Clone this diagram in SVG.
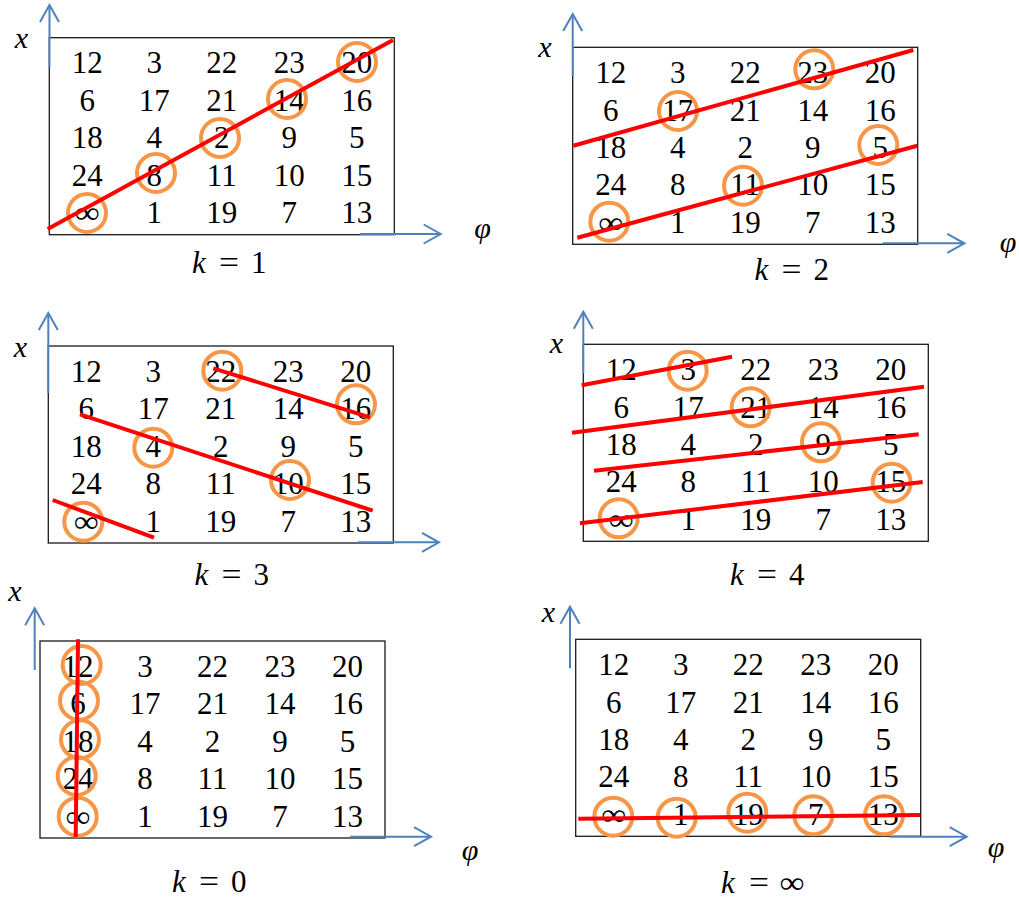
<svg xmlns="http://www.w3.org/2000/svg" width="1019" height="903" viewBox="0 0 1019 903">
<defs>
<style>
.frame{fill:#fff;stroke:#1a1a1a;stroke-width:1.3}
.n{font-family:"Liberation Serif","DejaVu Serif",serif;font-size:31px;text-anchor:middle;fill:#000}
.lab{font-family:"Liberation Serif","DejaVu Serif",serif;font-size:30px;font-style:italic;text-anchor:middle;fill:#000}
.k{font-family:"Liberation Serif","DejaVu Serif",serif;font-size:31px;fill:#000}
.it{font-style:italic}
.axis{fill:none;stroke:#4F81BD;stroke-width:2;marker-end:url(#arr)}
.ring{fill:none;stroke:#F79646;stroke-width:4}
.cut{stroke:#FF0000;stroke-width:4;stroke-linecap:butt}
</style>
<marker id="arr" markerUnits="userSpaceOnUse" viewBox="-19 -11 21 22" refX="0" refY="0" markerWidth="21" markerHeight="22" orient="auto">
<path d="M-17,-9.5 L0,0 L-17,9.5" fill="none" stroke="#4F81BD" stroke-width="2"/>
</marker>
</defs>
<rect width="1019" height="903" fill="#fff"/>

<!-- Panel k=1 -->
<g id="panel-k1">
<g transform="translate(49.3,37.7)">
<rect class="frame" x="0" y="0" width="345" height="197"/>
<text class="n" x="38" y="35.8">12</text><text class="n" x="105" y="35.8">3</text><text class="n" x="172.5" y="35.8">22</text><text class="n" x="240" y="35.8">23</text><text class="n" x="307.5" y="35.8">20</text>
<text class="n" x="38" y="73.3">6</text><text class="n" x="105" y="73.3">17</text><text class="n" x="172.5" y="73.3">21</text><text class="n" x="240" y="73.3">14</text><text class="n" x="307.5" y="73.3">16</text>
<text class="n" x="38" y="110.7">18</text><text class="n" x="105" y="110.7">4</text><text class="n" x="172.5" y="110.7">2</text><text class="n" x="240" y="110.7">9</text><text class="n" x="307.5" y="110.7">5</text>
<text class="n" x="38" y="148">24</text><text class="n" x="105" y="148">8</text><text class="n" x="172.5" y="148">11</text><text class="n" x="240" y="148">10</text><text class="n" x="307.5" y="148">15</text>
<text class="n" x="38" y="185.5" textLength="25" lengthAdjust="spacingAndGlyphs">∞</text><text class="n" x="105" y="185.5">1</text><text class="n" x="172.5" y="185.5">19</text><text class="n" x="240" y="185.5">7</text><text class="n" x="307.5" y="185.5">13</text>
</g>
<path class="axis" d="M49.5,67 V5"/>
<path class="axis" d="M360,234 H440.7"/>
<text class="lab" x="21.5" y="48">x</text>
<text class="lab" x="482.5" y="238">φ</text>
<text class="k" y="273.3"><tspan class="it" x="192">k</tspan><tspan x="219" textLength="20" lengthAdjust="spacingAndGlyphs">=</tspan><tspan x="251">1</tspan></text>
<circle class="ring" cx="87" cy="213" r="19"/><circle class="ring" cx="156" cy="173" r="19"/><circle class="ring" cx="220" cy="138" r="19"/><circle class="ring" cx="287" cy="99" r="19"/><circle class="ring" cx="357" cy="62" r="19"/>
<g id="lines-k1"><line class="cut" x1="47.7" y1="229" x2="393" y2="40"/></g>
</g>

<!-- Panel k=2 -->
<g id="panel-k2">
<g transform="translate(572.7,47.3)">
<rect class="frame" x="0" y="0" width="345" height="197"/>
<text class="n" x="38" y="35.8">12</text><text class="n" x="105" y="35.8">3</text><text class="n" x="172.5" y="35.8">22</text><text class="n" x="240" y="35.8">23</text><text class="n" x="307.5" y="35.8">20</text>
<text class="n" x="38" y="73.3">6</text><text class="n" x="105" y="73.3">17</text><text class="n" x="172.5" y="73.3">21</text><text class="n" x="240" y="73.3">14</text><text class="n" x="307.5" y="73.3">16</text>
<text class="n" x="38" y="110.7">18</text><text class="n" x="105" y="110.7">4</text><text class="n" x="172.5" y="110.7">2</text><text class="n" x="240" y="110.7">9</text><text class="n" x="307.5" y="110.7">5</text>
<text class="n" x="38" y="148">24</text><text class="n" x="105" y="148">8</text><text class="n" x="172.5" y="148">11</text><text class="n" x="240" y="148">10</text><text class="n" x="307.5" y="148">15</text>
<text class="n" x="38" y="185.5" textLength="25" lengthAdjust="spacingAndGlyphs">∞</text><text class="n" x="105" y="185.5">1</text><text class="n" x="172.5" y="185.5">19</text><text class="n" x="240" y="185.5">7</text><text class="n" x="307.5" y="185.5">13</text>
</g>
<path class="axis" d="M572.7,76 V14"/>
<path class="axis" d="M882.7,243.3 H964.3"/>
<text class="lab" x="545" y="57">x</text>
<text class="lab" x="1008" y="252">φ</text>
<text class="k" y="280"><tspan class="it" x="754.5">k</tspan><tspan x="781.5" textLength="20" lengthAdjust="spacingAndGlyphs">=</tspan><tspan x="813.5">2</tspan></text>
<circle class="ring" cx="814.3" cy="69.3" r="19"/><circle class="ring" cx="678" cy="111" r="19"/><circle class="ring" cx="878.3" cy="145" r="19"/><circle class="ring" cx="743" cy="185.7" r="19"/><circle class="ring" cx="609.3" cy="221.7" r="19"/>
<g id="lines-k2"><line class="cut" x1="573.3" y1="145.7" x2="913.3" y2="50"/><line class="cut" x1="577.3" y1="237.7" x2="917.3" y2="145.7"/></g>
</g>

<!-- Panel k=3 -->
<g id="panel-k3">
<g transform="translate(48.3,346)">
<rect class="frame" x="0" y="0" width="345" height="197"/>
<text class="n" x="38" y="35.8">12</text><text class="n" x="105" y="35.8">3</text><text class="n" x="172.5" y="35.8">22</text><text class="n" x="240" y="35.8">23</text><text class="n" x="307.5" y="35.8">20</text>
<text class="n" x="38" y="73.3">6</text><text class="n" x="105" y="73.3">17</text><text class="n" x="172.5" y="73.3">21</text><text class="n" x="240" y="73.3">14</text><text class="n" x="307.5" y="73.3">16</text>
<text class="n" x="38" y="110.7">18</text><text class="n" x="105" y="110.7">4</text><text class="n" x="172.5" y="110.7">2</text><text class="n" x="240" y="110.7">9</text><text class="n" x="307.5" y="110.7">5</text>
<text class="n" x="38" y="148">24</text><text class="n" x="105" y="148">8</text><text class="n" x="172.5" y="148">11</text><text class="n" x="240" y="148">10</text><text class="n" x="307.5" y="148">15</text>
<text class="n" x="38" y="185.5" textLength="25" lengthAdjust="spacingAndGlyphs">∞</text><text class="n" x="105" y="185.5">1</text><text class="n" x="172.5" y="185.5">19</text><text class="n" x="240" y="185.5">7</text><text class="n" x="307.5" y="185.5">13</text>
</g>
<path class="axis" d="M48.3,393 V313"/>
<path class="axis" d="M358,542.3 H439"/>
<text class="lab" x="20.5" y="357">x</text>
<text class="k" y="585"><tspan class="it" x="194.5">k</tspan><tspan x="221.5" textLength="20" lengthAdjust="spacingAndGlyphs">=</tspan><tspan x="253.5">3</tspan></text>
<circle class="ring" cx="222.3" cy="370.7" r="19"/><circle class="ring" cx="356" cy="404.3" r="19"/><circle class="ring" cx="153.3" cy="447.7" r="19"/><circle class="ring" cx="290" cy="480" r="19"/><circle class="ring" cx="83.3" cy="521.7" r="19"/>
<g id="lines-k3"><line class="cut" x1="213.3" y1="368.3" x2="370" y2="417.3"/><line class="cut" x1="80" y1="414.3" x2="372.7" y2="510.7"/><line class="cut" x1="52.7" y1="500" x2="154" y2="537.7"/></g>
</g>

<!-- Panel k=4 -->
<g id="panel-k4">
<g transform="translate(583.3,344.3)">
<rect class="frame" x="0" y="0" width="345" height="197"/>
<text class="n" x="38" y="35.8">12</text><text class="n" x="105" y="35.8">3</text><text class="n" x="172.5" y="35.8">22</text><text class="n" x="240" y="35.8">23</text><text class="n" x="307.5" y="35.8">20</text>
<text class="n" x="38" y="73.3">6</text><text class="n" x="105" y="73.3">17</text><text class="n" x="172.5" y="73.3">21</text><text class="n" x="240" y="73.3">14</text><text class="n" x="307.5" y="73.3">16</text>
<text class="n" x="38" y="110.7">18</text><text class="n" x="105" y="110.7">4</text><text class="n" x="172.5" y="110.7">2</text><text class="n" x="240" y="110.7">9</text><text class="n" x="307.5" y="110.7">5</text>
<text class="n" x="38" y="148">24</text><text class="n" x="105" y="148">8</text><text class="n" x="172.5" y="148">11</text><text class="n" x="240" y="148">10</text><text class="n" x="307.5" y="148">15</text>
<text class="n" x="38" y="185.5" textLength="25" lengthAdjust="spacingAndGlyphs">∞</text><text class="n" x="105" y="185.5">1</text><text class="n" x="172.5" y="185.5">19</text><text class="n" x="240" y="185.5">7</text><text class="n" x="307.5" y="185.5">13</text>
</g>
<path class="axis" d="M583.3,373.3 V311.7"/>
<text class="lab" x="556.5" y="353">x</text>
<text class="k" y="585"><tspan class="it" x="730">k</tspan><tspan x="757" textLength="20" lengthAdjust="spacingAndGlyphs">=</tspan><tspan x="789">4</tspan></text>
<circle class="ring" cx="687.7" cy="370.7" r="19"/><circle class="ring" cx="750.7" cy="407.3" r="19"/><circle class="ring" cx="821" cy="442.3" r="19"/><circle class="ring" cx="891.7" cy="482.7" r="19"/><circle class="ring" cx="618.7" cy="518.3" r="19"/>
<g id="lines-k4"><line class="cut" x1="581.7" y1="385.3" x2="732" y2="356.7"/><line class="cut" x1="572" y1="432.7" x2="924" y2="386.7"/><line class="cut" x1="594" y1="470.7" x2="918.7" y2="434.3"/><line class="cut" x1="580" y1="523.3" x2="922.7" y2="482"/></g>
</g>

<!-- Panel k=0 -->
<g id="panel-k0">
<g transform="translate(40,641)">
<rect class="frame" x="0" y="0" width="345" height="197"/>
<text class="n" x="38" y="35.8">12</text><text class="n" x="105" y="35.8">3</text><text class="n" x="172.5" y="35.8">22</text><text class="n" x="240" y="35.8">23</text><text class="n" x="307.5" y="35.8">20</text>
<text class="n" x="38" y="73.3">6</text><text class="n" x="105" y="73.3">17</text><text class="n" x="172.5" y="73.3">21</text><text class="n" x="240" y="73.3">14</text><text class="n" x="307.5" y="73.3">16</text>
<text class="n" x="38" y="110.7">18</text><text class="n" x="105" y="110.7">4</text><text class="n" x="172.5" y="110.7">2</text><text class="n" x="240" y="110.7">9</text><text class="n" x="307.5" y="110.7">5</text>
<text class="n" x="38" y="148">24</text><text class="n" x="105" y="148">8</text><text class="n" x="172.5" y="148">11</text><text class="n" x="240" y="148">10</text><text class="n" x="307.5" y="148">15</text>
<text class="n" x="38" y="185.5" textLength="25" lengthAdjust="spacingAndGlyphs">∞</text><text class="n" x="105" y="185.5">1</text><text class="n" x="172.5" y="185.5">19</text><text class="n" x="240" y="185.5">7</text><text class="n" x="307.5" y="185.5">13</text>
</g>
<path class="axis" d="M34.7,670 V608.3"/>
<path class="axis" d="M350,836.7 H431"/>
<text class="lab" x="15" y="601">x</text>
<text class="lab" x="470" y="860">φ</text>
<text class="k" y="891.7"><tspan class="it" x="172">k</tspan><tspan x="199" textLength="20" lengthAdjust="spacingAndGlyphs">=</tspan><tspan x="231">0</tspan></text>
<circle class="ring" cx="81.7" cy="665" r="19"/><circle class="ring" cx="79" cy="700.7" r="19"/><circle class="ring" cx="80" cy="739.3" r="19"/><circle class="ring" cx="76.7" cy="776" r="19"/><circle class="ring" cx="77.7" cy="816.7" r="19"/>
<g id="lines-k0"><line class="cut" x1="78" y1="639.3" x2="75.7" y2="837.3"/></g>
</g>

<!-- Panel k=inf -->
<g id="panel-kinf">
<g transform="translate(575.7,639.3)">
<rect class="frame" x="0" y="0" width="345" height="197"/>
<text class="n" x="38" y="35.8">12</text><text class="n" x="105" y="35.8">3</text><text class="n" x="172.5" y="35.8">22</text><text class="n" x="240" y="35.8">23</text><text class="n" x="307.5" y="35.8">20</text>
<text class="n" x="38" y="73.3">6</text><text class="n" x="105" y="73.3">17</text><text class="n" x="172.5" y="73.3">21</text><text class="n" x="240" y="73.3">14</text><text class="n" x="307.5" y="73.3">16</text>
<text class="n" x="38" y="110.7">18</text><text class="n" x="105" y="110.7">4</text><text class="n" x="172.5" y="110.7">2</text><text class="n" x="240" y="110.7">9</text><text class="n" x="307.5" y="110.7">5</text>
<text class="n" x="38" y="148">24</text><text class="n" x="105" y="148">8</text><text class="n" x="172.5" y="148">11</text><text class="n" x="240" y="148">10</text><text class="n" x="307.5" y="148">15</text>
<text class="n" x="38" y="185.5" textLength="25" lengthAdjust="spacingAndGlyphs">∞</text><text class="n" x="105" y="185.5">1</text><text class="n" x="172.5" y="185.5">19</text><text class="n" x="240" y="185.5">7</text><text class="n" x="307.5" y="185.5">13</text>
</g>
<path class="axis" d="M570,668.3 V606.7"/>
<path class="axis" d="M890,836.7 H966.7"/>
<text class="lab" x="548.3" y="622">x</text>
<text class="lab" x="996" y="857">φ</text>
<text class="k" y="893"><tspan class="it" x="721">k</tspan><tspan x="749" textLength="20" lengthAdjust="spacingAndGlyphs">=</tspan><tspan x="779.5" textLength="25" lengthAdjust="spacingAndGlyphs">∞</tspan></text>
<circle class="ring" cx="613.3" cy="816.7" r="19"/><circle class="ring" cx="676.7" cy="817.7" r="19"/><circle class="ring" cx="747.3" cy="812.7" r="19"/><circle class="ring" cx="813.3" cy="815.3" r="19"/><circle class="ring" cx="884" cy="815.3" r="19"/>
<g id="lines-kinf"><line class="cut" x1="578.3" y1="818.7" x2="920" y2="815"/></g>
</g>
</svg>
